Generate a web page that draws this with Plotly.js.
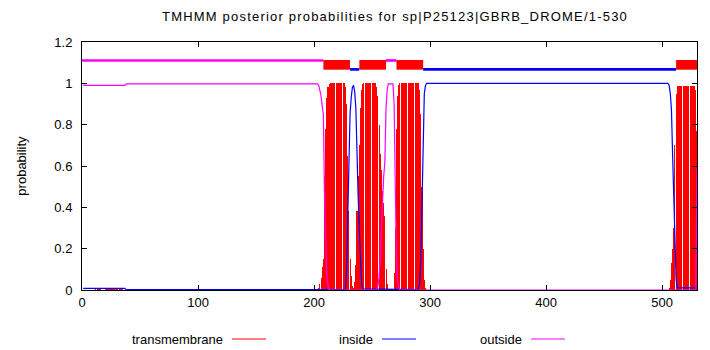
<!DOCTYPE html>
<html>
<head>
<meta charset="utf-8">
<script src="https://cdn.plot.ly/plotly-3.0.1.min.js"></script>
<style>html,body{margin:0;padding:0;background:#fff;}#chart{width:710px;height:350px;}
#chart .gtitle{letter-spacing:1.2px;}</style>
</head>
<body>
<div id="chart"></div>
<script>
// ---- DATA ----
const chartTitle = "TMHMM posterior probabilities for sp|P25123|GBRB_DROME/1-530";
const seqLength = 530;

// transmembrane posterior probability (impulses), residue -> value
const tmResidues = [12,13,14,15,16,17,18,19,20,21,22,23,24,25,26,27,28,29,30,31,32,33,34,35,
  204,205,206,207,208,209,210,211,212,213,214,215,216,217,218,219,220,221,222,223,224,225,226,
  227,228,229,230,231,232,233,234,235,236,237,238,239,240,241,242,243,244,245,246,247,248,249,250,251,252,
  253,254,255,256,257,258,259,260,261,262,263,264,265,266,267,268,269,270,271,272,273,
  274,275,276,277,278,279,280,281,282,283,284,285,286,287,288,289,290,291,292,293,294,295,296,
  506,507,508,509,510,511,512,513,514,515,516,517,518,519,520,521,522,523,524,525,526,527,528,529,530];
const tmValues = [0.006,0.006,0.006,0.006,0.006,0.002,0.002,0.002,0.012,0.012,0.012,0.012,0.012,0.012,0.012,0.012,0.012,0.012,0.012,0.012,0.012,0.012,0.012,0.012,
  0.01,0.03,0.06,0.11,0.15,0.55,0.78,0.93,0.98,0.995,1,1,1,1,1,1,1,1,1,1,1,1,1,
  0.98,0.90,0.65,0.38,0.15,0.07,0.02,0.01,0.04,0.12,0.38,0.55,0.70,0.88,0.97,0.995,1,1,1,1,1,1,1,1,1,1,
  1,0.98,0.94,0.80,0.66,0.58,0.48,0.42,0.36,0.10,0.03,0.005,0.005,0.005,0.005,0.005,0.08,0.30,0.78,0.94,0.99,
  1,1,1,1,1,1,1,1,1,1,1,1,1,1,1,1,1,0.97,0.85,0.50,0.20,0.05,0.01,
  0.01,0.05,0.13,0.20,0.30,0.70,0.95,0.985,0.985,0.985,0.985,0.985,0.985,0.985,0.985,0.985,0.985,0.985,0.985,0.985,0.985,0.985,0.985,0.97,0.77];

// inside posterior probability (line vertices)
const insideResidues = [1,37,38,227,228,229,230,231,232,233,234,235,236,237,238,239,240,241,242,289,290,291,292,293,294,295,296,297,505,506,507,508,509,510,511,512,513,530];
const insideValues = [0.008,0.008,0.002,0.002,0.10,0.35,0.62,0.85,0.93,0.98,0.99,0.96,0.88,0.62,0.45,0.30,0.12,0.03,0.005,0.002,0.01,0.03,0.15,0.48,0.78,0.95,0.99,1.0,1.0,0.99,0.95,0.87,0.65,0.46,0.27,0.05,0.01,0.01];

// outside posterior probability (line vertices)
const outsideResidues = [1,37,38,203,204,205,206,207,208,209,210,211,212,213,254,255,256,257,258,259,260,261,262,263,264,268,269,270,271,272,273,274,529,530];
const outsideValues = [0.99,0.99,0.997,0.997,0.99,0.97,0.94,0.89,0.85,0.45,0.22,0.07,0.02,0.0,0.0,0.02,0.06,0.15,0.30,0.45,0.55,0.62,0.88,0.97,0.997,0.997,0.90,0.50,0.15,0.04,0.01,0.0,0.0,0.6];

// predicted topology segments
const segTypes  = ["outside","TMhelix","inside","TMhelix","outside","TMhelix","inside","TMhelix"];
const segStarts = [1,209,232,240,263,272,295,513];
const segEnds   = [208,231,239,262,271,294,512,530];

const xTicks = [0,100,200,300,400,500];
const yTicks = [0,0.2,0.4,0.6,0.8,1,1.2];
const legendLabels = ["transmembrane","inside","outside"];

// ---- STYLE ----
const colors = {TMhelix:"#ff0000", inside:"#0000ff", outside:"#ff00ff"};
const FONT = "Liberation Sans, Arial, Helvetica, sans-serif";

const traces = [
  {type:"bar", x:tmResidues, y:tmValues, width:0.9, marker:{color:colors.TMhelix, line:{width:0}}, hoverinfo:"x+y", showlegend:false},
  {type:"scatter", mode:"lines", x:insideResidues, y:insideValues, line:{color:colors.inside, width:1.2}, showlegend:false},
  {type:"scatter", mode:"lines", x:outsideResidues, y:outsideValues, line:{color:colors.outside, width:1.2}, showlegend:false}
];

const bandY = {TMhelix:[1.066,1.113], inside:[1.061,1.074], outside:[1.104,1.117]};
const shapes = segTypes.map((t,i)=>({
  type:"rect", xref:"x", yref:"y", x0:segStarts[i]-1, x1:segEnds[i], y0:bandY[t][0], y1:bandY[t][1],
  fillcolor:colors[t], line:{width:0}, layer:"above"
}));

// legend (text then line sample, gnuplot style)
const plotL = 82, plotW = 615, plotB = 290, plotH = 248;
const px2x = p => (p - plotL)/plotW;
const py2y = p => (plotB - p)/plotH;
const legTextRight = [225, 375, 524];
const legLineX = [[232,266],[382,416],[531,565]];
const legColors = [colors.TMhelix, colors.inside, colors.outside];
const legY = 339;
const annotations = legendLabels.map((s,i)=>({
  text:s, xref:"paper", yref:"paper", x:px2x(legTextRight[i]), y:py2y(legY), xanchor:"right", yanchor:"middle",
  showarrow:false, font:{family:FONT, size:13, color:"#000"}
}));
legendLabels.forEach((s,i)=>{
  shapes.push({type:"line", xref:"paper", yref:"paper", x0:px2x(legLineX[i][0]), x1:px2x(legLineX[i][1]),
    y0:py2y(legY), y1:py2y(legY), line:{color:legColors[i], width:1}});
});

const layout = {
  width:710, height:350,
  margin:{l:82, r:13, t:42, b:60},
  paper_bgcolor:"#fff", plot_bgcolor:"#fff",
  font:{family:FONT, size:13, color:"#000"},
  title:{text:chartTitle, x:395/710, xanchor:"center", y:1-16/350, yanchor:"middle", font:{family:FONT, size:13, color:"#000"}},
  xaxis:{range:[0,seqLength], tickvals:xTicks, ticktext:xTicks.map(String), ticks:"inside", ticklen:5, tickcolor:"#000",
    showline:true, linecolor:"#000", linewidth:1, mirror:"ticks", showgrid:false, zeroline:false,
    tickfont:{family:FONT, size:13, color:"#000"}},
  yaxis:{range:[0,1.2], tickvals:yTicks, ticktext:yTicks.map(String), ticks:"inside", ticklen:5, tickcolor:"#000",
    showline:true, linecolor:"#000", linewidth:1, mirror:"ticks", showgrid:false, zeroline:false,
    ticklabelstandoff:6,
    title:{text:"probability", font:{family:FONT, size:13, color:"#000"}, standoff:24},
    tickfont:{family:FONT, size:13, color:"#000"}},
  bargap:0,
  shapes:shapes,
  annotations:annotations,
  showlegend:false
};

Plotly.newPlot("chart", traces, layout, {displayModeBar:false, staticPlot:true});
</script>
</body>
</html>
